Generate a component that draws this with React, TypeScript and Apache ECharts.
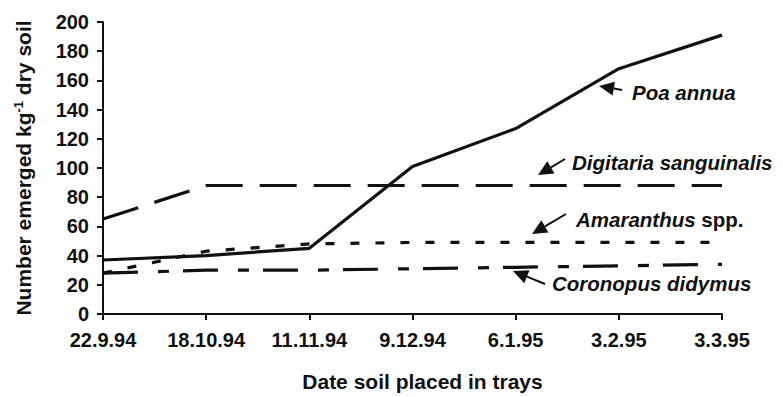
import React, { useEffect, useRef } from "react";
import * as echarts from "echarts";

const dates = ["22.9.94", "18.10.94", "11.11.94", "9.12.94", "6.1.95", "3.2.95", "3.3.95"];
const poaAnnua = [37, 40, 45, 101, 127, 168, 191];
const digitaria = [65, 88, 88, 88, 88, 88, 88];
const amaranthus = [28, 43, 48, 49, 49, 49, 49];
const coronopus = [28, 30, 30, 31, 32, 33, 34];
const yTicks = { min: 0, max: 200, interval: 20 };

const FONT = "'Liberation Sans', Arial, sans-serif";
const ANN = 20.5;

function arrow(tail: [number, number], tip: [number, number]) {
  const dx = tip[0] - tail[0];
  const dy = tip[1] - tail[1];
  const len = Math.sqrt(dx * dx + dy * dy);
  const ux = dx / len;
  const uy = dy / len;
  const hl = 15;
  const hw = 7;
  const bx = tip[0] - ux * hl;
  const by = tip[1] - uy * hl;
  return [
    {
      type: "line",
      shape: { x1: tail[0], y1: tail[1], x2: bx, y2: by },
      style: { stroke: "#111", lineWidth: 2 },
    },
    {
      type: "polygon",
      shape: {
        points: [
          [tip[0], tip[1]],
          [bx - uy * hw, by + ux * hw],
          [bx + uy * hw, by - ux * hw],
        ],
      },
      style: { fill: "#111" },
    },
  ];
}

function label(x: number, y: number, text: string, rich?: any) {
  return {
    type: "text",
    x,
    y,
    style: {
      text,
      fontFamily: FONT,
      fontSize: ANN,
      fontWeight: "bold",
      fontStyle: "italic",
      fill: "#111",
      verticalAlign: "middle",
      align: "left",
      rich,
    },
  };
}

export default function App() {
  const ref = useRef<HTMLDivElement>(null);
  useEffect(() => {
    document.body.style.margin = "0";
    if (!ref.current) return;
    const chart = echarts.init(ref.current, null, { renderer: "svg" });
    const lineCommon = { type: "line", symbol: "none", silent: true };
    chart.setOption({
      animation: false,
      backgroundColor: "#fff",
      grid: { left: 103, right: 61, top: 22, bottom: 81 },
      xAxis: {
        type: "category",
        data: dates,
        boundaryGap: false,
        name: "Date soil placed in trays",
        nameLocation: "middle",
        nameGap: 57,
        nameTextStyle: { fontFamily: FONT, fontSize: 21, fontWeight: "bold", color: "#111", padding: [0, 0, 0, 20] },
        axisLine: { lineStyle: { color: "#111", width: 2 } },
        axisTick: { show: true, alignWithLabel: true, length: 6, lineStyle: { color: "#111", width: 2 } },
        axisLabel: { margin: 16, fontFamily: FONT, fontSize: 20, fontWeight: "bold", color: "#111" },
        splitLine: { show: false },
      },
      yAxis: {
        type: "value",
        min: yTicks.min,
        max: yTicks.max,
        interval: yTicks.interval,
        name: "Number emerged kg{sup|-1} dry soil",
        nameLocation: "middle",
        nameRotate: 90,
        nameGap: 69,
        nameTextStyle: {
          fontFamily: FONT,
          fontSize: 21,
          fontWeight: "bold",
          color: "#111",
          rich: {
            sup: { fontFamily: FONT, fontSize: 13, fontWeight: "bold", color: "#111", verticalAlign: "bottom", padding: [0, 0, 9, 0] },
          },
        },
        axisLine: { show: true, lineStyle: { color: "#111", width: 2 } },
        axisTick: { show: true, length: 6, lineStyle: { color: "#111", width: 2 } },
        axisLabel: { margin: 14, fontFamily: FONT, fontSize: 20, fontWeight: "bold", color: "#111" },
        splitLine: { show: false },
      },
      series: [
        { ...lineCommon, name: "Poa annua", data: poaAnnua, lineStyle: { color: "#111", width: 3.2 } },
        { ...lineCommon, name: "Digitaria sanguinalis", data: digitaria, lineStyle: { color: "#111", width: 3.2, type: [37, 17] } },
        { ...lineCommon, name: "Amaranthus spp.", data: amaranthus, lineStyle: { color: "#111", width: 3.2, type: [9, 16] } },
        { ...lineCommon, name: "Coronopus didymus", data: coronopus, lineStyle: { color: "#111", width: 3.2, type: [35, 20, 11, 14] } },
      ],
      graphic: [
        ...arrow([622, 90], [599, 86]),
        label(632, 92, "Poa annua"),
        ...arrow([565, 159], [538, 175]),
        label(572, 162, "Digitaria sanguinalis"),
        ...arrow([566, 214], [532, 234]),
        label(576, 219, "{it|Amaranthus} {n|spp.}", {
          it: { fontFamily: FONT, fontSize: ANN, fontWeight: "bold", fontStyle: "italic", fill: "#111" },
          n: { fontFamily: FONT, fontSize: ANN, fontWeight: "bold", fontStyle: "normal", fill: "#111" },
        }),
        ...arrow([545, 284], [513, 271]),
        label(552, 283, "Coronopus didymus"),
      ],
    });
    return () => chart.dispose();
  }, []);
  return <div ref={ref} style={{ width: 783, height: 397 }} />;
}
